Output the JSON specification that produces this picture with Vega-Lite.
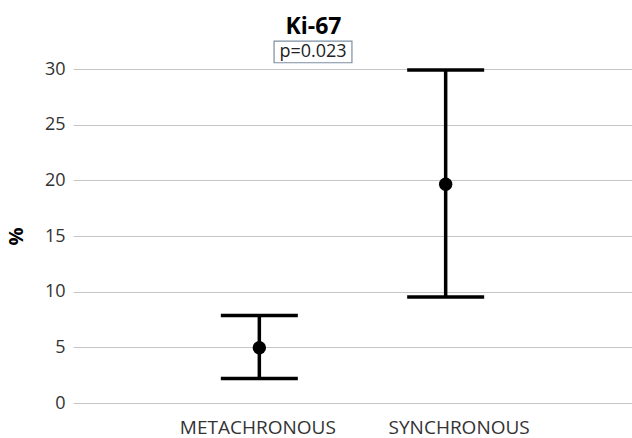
{
  "$schema": "https://vega.github.io/schema/vega-lite/v6.json",
  "width": 559,
  "height": 334,
  "autosize": {"type": "none"},
  "padding": {"left": 73, "top": 69, "right": 0, "bottom": 35},
  "background": "white",
  "title": {
    "text": "Ki-67",
    "font": "Open Sans",
    "fontSize": 23,
    "fontWeight": "bold",
    "color": "#000000",
    "anchor": "middle",
    "frame": "group",
    "dx": -39,
    "offset": 2
  },
  "config": {
    "view": {"stroke": null},
    "font": "Open Sans",
    "axisY": {
      "values": [0, 5, 10, 15, 20, 25, 30],
      "grid": true,
      "gridColor": "#c6c6c6",
      "gridWidth": 1.2,
      "domain": false,
      "ticks": false,
      "labelFont": "Open Sans",
      "labelFontSize": 18,
      "labelColor": "#333333",
      "labelPadding": 8,
      "titleFont": "Open Sans",
      "titleFontSize": 20,
      "titleFontWeight": "bold",
      "titleColor": "#000000",
      "titlePadding": 18
    },
    "axisX": {
      "grid": false,
      "domain": false,
      "ticks": false,
      "labelAngle": 0,
      "labelFont": "Open Sans",
      "labelFontSize": 19,
      "labelColor": "#333333",
      "labelPadding": 15,
      "labelOffset": {"condition": {"test": "datum.value === 'SYNCHRONOUS'", "value": 13}, "value": -2}
    }
  },
  "datasets": {
    "stats": [
      {"group": "METACHRONOUS", "mean": 4.97, "low": 2.19, "high": 7.87},
      {"group": "SYNCHRONOUS", "mean": 19.65, "low": 9.52, "high": 29.9}
    ],
    "note": [
      {"label": "p=0.023", "x1": 1.079, "x2": 1.497, "xc": 1.288, "y1": 30.56, "y2": 32.5, "yc": 31.53}
    ]
  },
  "layer": [
    {
      "data": {"name": "stats"},
      "encoding": {
        "x": {
          "field": "group",
          "type": "nominal",
          "sort": null,
          "title": null,
          "scale": {"type": "point", "padding": 1}
        }
      },
      "layer": [
        {
          "mark": {"type": "rule", "color": "#000000", "strokeWidth": 3.5},
          "encoding": {
            "y": {"field": "low", "type": "quantitative", "title": "%", "scale": {"domain": [0, 30], "nice": false, "zero": true}},
            "y2": {"field": "high"}
          }
        },
        {
          "mark": {"type": "tick", "color": "#000000", "size": 77, "thickness": 3.5, "orient": "horizontal", "opacity": 1},
          "encoding": {
            "y": {"field": "low", "type": "quantitative", "title": "%"}
          }
        },
        {
          "mark": {"type": "tick", "color": "#000000", "size": 77, "thickness": 3.5, "orient": "horizontal", "opacity": 1},
          "encoding": {
            "y": {"field": "high", "type": "quantitative", "title": "%"}
          }
        },
        {
          "mark": {"type": "circle", "color": "#000000", "size": 180, "opacity": 1},
          "encoding": {
            "y": {"field": "mean", "type": "quantitative", "title": "%"}
          }
        }
      ]
    },
    {
      "data": {"name": "note"},
      "layer": [
        {
          "mark": {"type": "rect", "fill": "#ffffff", "stroke": "#7d8ea3", "strokeWidth": 1.2},
          "encoding": {
            "x": {"field": "x1", "type": "quantitative", "scale": {"domain": [0, 3], "nice": false, "zero": false}, "axis": null},
            "x2": {"field": "x2"},
            "y": {"field": "y1", "type": "quantitative", "axis": null},
            "y2": {"field": "y2"}
          }
        },
        {
          "mark": {"type": "text", "font": "Open Sans", "fontSize": 18, "color": "#222222", "align": "center", "baseline": "middle"},
          "encoding": {
            "x": {"field": "xc", "type": "quantitative", "axis": null},
            "y": {"field": "yc", "type": "quantitative", "axis": null},
            "text": {"field": "label"}
          }
        }
      ]
    }
  ],
  "resolve": {"scale": {"x": "independent"}, "axis": {"y": "independent"}}
}
